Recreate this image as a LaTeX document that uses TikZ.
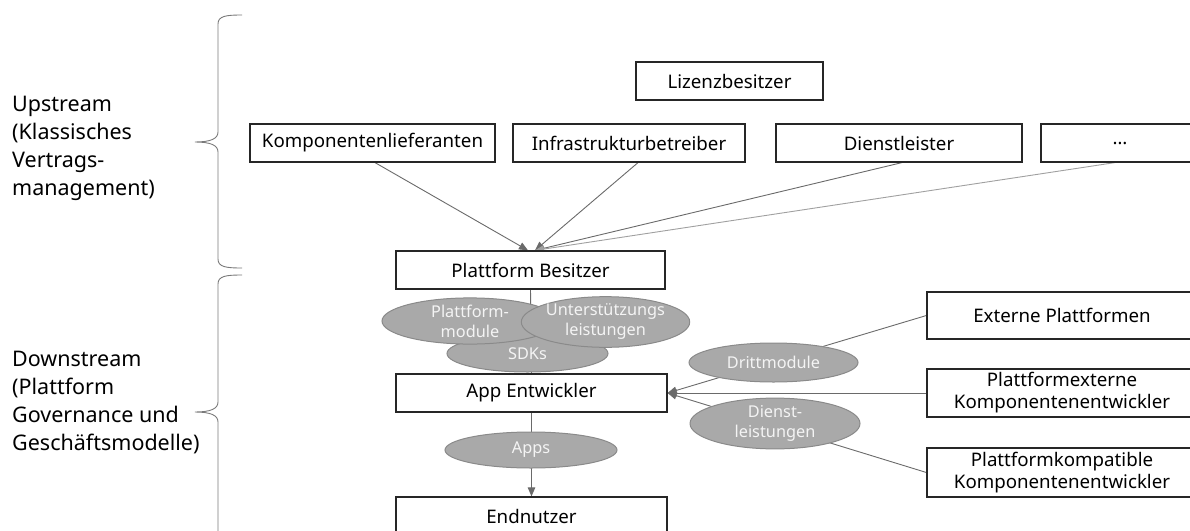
\documentclass[tikz,border=0pt]{standalone}
\usepackage{fontspec}
\setmainfont{Noto Sans}
\usetikzlibrary{arrows.meta,shapes.geometric,backgrounds}
\definecolor{boxline}{HTML}{262626}
\definecolor{conn}{HTML}{6A6A6A}
\definecolor{connlight}{HTML}{A0A0A0}
\definecolor{ellfill}{HTML}{A9A9A9}
\definecolor{ellline}{HTML}{8A8A8A}
\definecolor{elltext}{HTML}{F4F4F4}
\definecolor{bracecol}{HTML}{7A7A7A}
\tikzset{
  box/.style={draw=boxline, line width=1.2pt, fill=white, inner sep=0pt, align=center,
    font=\fontsize{18.7}{22}\selectfont, text=black},
  oval/.style={ellipse, draw=ellline, line width=1pt, fill=ellfill, inner sep=0pt, align=center,
    font=\fontsize{16.3}{20}\selectfont, text=elltext},
  conline/.style={draw=conn, line width=0.9pt},
  conarrow/.style={conline, -{Triangle[length=9pt,width=7.5pt]}},
  sidetext/.style={anchor=north west, inner sep=0pt, align=left, font=\fontsize{21.5}{28}\selectfont},
  bracestyle/.style={draw=bracecol, line width=0.9pt}
}
\begin{document}
\begin{tikzpicture}[x=1pt,y=-1pt]
\useasboundingbox (0,0) rectangle (1190,530);
\clip (0,0) rectangle (1190,530);

% left texts
\node[sidetext] (up) at (12,96) {Upstream\\(Klassisches\\Vertrags-\\management)};
\node[sidetext] (down) at (12,351) {Downstream\\(Plattform\\Governance und\\Geschäftsmodelle)};

% braces
\draw[bracestyle] (242,15) .. controls (226,15) and (218,16) .. (218,24)
  -- (218,132) .. controls (218,139) and (210,142) .. (195,142)
  .. controls (210,142) and (218,145) .. (218,152)
  -- (218,259) .. controls (218,267) and (226,268) .. (242,268);
\draw[bracestyle] (242,275) .. controls (226,275) and (218,276) .. (218,284)
  -- (218,402) .. controls (218,409) and (210,412) .. (195,412)
  .. controls (210,412) and (218,415) .. (218,422)
  -- (218,540);

% upstream boxes
\node[box, minimum width=187pt, minimum height=38pt] (liz) at (729.5,81) {Lizenzbesitzer};
\node[box, minimum width=245pt, minimum height=38pt] (komp) at (372.5,143) {Komponentenlieferanten};
\node[box, minimum width=232pt, minimum height=38pt] (infra) at (629,143) {Infrastrukturbetreiber};
\node[box, minimum width=246pt, minimum height=38pt] (dienst) at (899,143) {Dienstleister};
\node[box, minimum width=158pt, minimum height=38pt] (more) at (1120,143) {\dots};

% main column
\node[box, minimum width=269pt, minimum height=38pt] (pb) at (530.5,270) {Plattform Besitzer};
\node[box, minimum width=271pt, minimum height=38pt] (app) at (531.5,393) {App Entwickler};
\node[box, minimum width=271pt, minimum height=38pt] (end) at (531.5,516) {Endnutzer};

% right boxes
\node[box, minimum width=270pt, minimum height=47pt] (ext) at (1062,315.5) {Externe Plattformen};
\node[box, minimum width=270pt, minimum height=48pt] (pe) at (1062,393) {Plattformexterne\\Komponentenentwickler};
\node[box, minimum width=270pt, minimum height=49pt] (pk) at (1062,472.5) {Plattformkompatible\\Komponentenentwickler};

% ellipses
\node[oval, minimum width=161pt, minimum height=37pt] (sdk) at (527.5,353.5) {SDKs};
\node[oval, minimum width=176pt, minimum height=39pt] (pm) at (470,321) {Plattform-\\module};
\node[oval, minimum width=165pt, minimum height=40pt] (us) at (605.5,322) {Unterstützungs\\leistungen};
\node[oval, minimum width=172pt, minimum height=36pt] (apps) at (531,450) {Apps};
\node[oval, minimum width=169pt, minimum height=39pt] (dritt) at (773.5,362.5) {Drittmodule};
\node[oval, minimum width=170pt, minimum height=47pt] (dl) at (775,423.5) {Dienst-\\leistungen};

% connectors
\begin{scope}[on background layer]
\draw[conarrow] ([xshift=2.5pt]komp.south) -- ([xshift=-2.5pt]pb.north);
\draw[conarrow] ([xshift=9pt]infra.south) -- ([xshift=4.5pt]pb.north);
\draw[conarrow] ([xshift=3pt]dienst.south) -- ([xshift=4.5pt]pb.north);
\draw[conarrow, draw=connlight] ([xshift=-5pt]more.south) -- ([xshift=4.5pt]pb.north);
\draw[conline] (pb.south) -- (app.north);
\draw[conarrow] (app.south) -- (end.north);
\draw[conarrow] (ext.west) -- (app.east);
\draw[conarrow] (pe.west) -- (app.east);
\draw[conarrow] (pk.west) -- (app.east);
\end{scope}
\end{tikzpicture}
\end{document}
